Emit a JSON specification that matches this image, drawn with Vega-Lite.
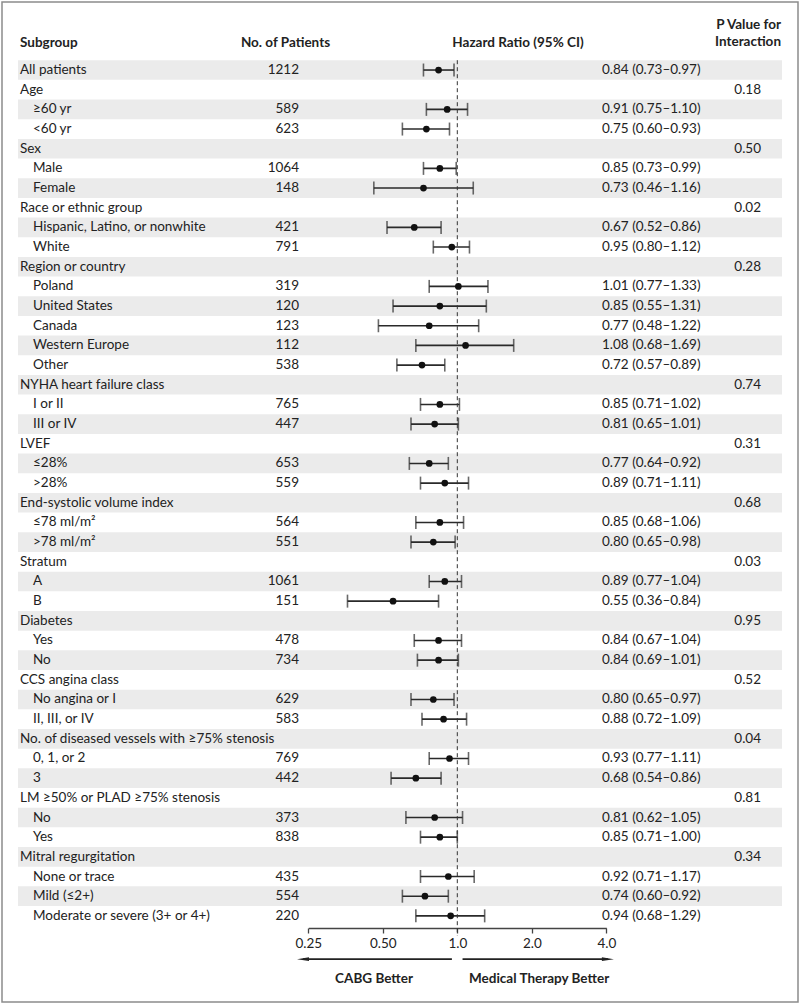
{
  "$schema": "https://vega.github.io/schema/vega-lite/v6.json",
  "width": 796,
  "height": 1000,
  "padding": {"left": 2, "top": 2, "right": 2, "bottom": 2},
  "background": "white",
  "config": {
    "view": {"stroke": "#8c8c8c", "strokeWidth": 1.5},
    "text": {"font": "Lato", "fontSize": 13.5, "color": "#222", "baseline": "middle"}
  },
  "datasets": {
    "rows": [
      {"id": "All patients", "label": "All patients", "level": "g", "n": 1212, "hr": 0.84, "lo": 0.73, "hi": 0.97, "ci": "0.84 (0.73–0.97)"},
      {"id": "Age", "label": "Age", "level": "g", "p": "0.18"},
      {"id": "≥60 yr", "label": "≥60 yr", "level": "s", "n": 589, "hr": 0.91, "lo": 0.75, "hi": 1.10, "ci": "0.91 (0.75–1.10)"},
      {"id": "<60 yr", "label": "<60 yr", "level": "s", "n": 623, "hr": 0.75, "lo": 0.60, "hi": 0.93, "ci": "0.75 (0.60–0.93)"},
      {"id": "Sex", "label": "Sex", "level": "g", "p": "0.50"},
      {"id": "Male", "label": "Male", "level": "s", "n": 1064, "hr": 0.85, "lo": 0.73, "hi": 0.99, "ci": "0.85 (0.73–0.99)"},
      {"id": "Female", "label": "Female", "level": "s", "n": 148, "hr": 0.73, "lo": 0.46, "hi": 1.16, "ci": "0.73 (0.46–1.16)"},
      {"id": "Race or ethnic group", "label": "Race or ethnic group", "level": "g", "p": "0.02"},
      {"id": "Hispanic, Latino, or nonwhite", "label": "Hispanic, Latino, or nonwhite", "level": "s", "n": 421, "hr": 0.67, "lo": 0.52, "hi": 0.86, "ci": "0.67 (0.52–0.86)"},
      {"id": "White", "label": "White", "level": "s", "n": 791, "hr": 0.95, "lo": 0.80, "hi": 1.12, "ci": "0.95 (0.80–1.12)"},
      {"id": "Region or country", "label": "Region or country", "level": "g", "p": "0.28"},
      {"id": "Poland", "label": "Poland", "level": "s", "n": 319, "hr": 1.01, "lo": 0.77, "hi": 1.33, "ci": "1.01 (0.77–1.33)"},
      {"id": "United States", "label": "United States", "level": "s", "n": 120, "hr": 0.85, "lo": 0.55, "hi": 1.31, "ci": "0.85 (0.55–1.31)"},
      {"id": "Canada", "label": "Canada", "level": "s", "n": 123, "hr": 0.77, "lo": 0.48, "hi": 1.22, "ci": "0.77 (0.48–1.22)"},
      {"id": "Western Europe", "label": "Western Europe", "level": "s", "n": 112, "hr": 1.08, "lo": 0.68, "hi": 1.69, "ci": "1.08 (0.68–1.69)"},
      {"id": "Other", "label": "Other", "level": "s", "n": 538, "hr": 0.72, "lo": 0.57, "hi": 0.89, "ci": "0.72 (0.57–0.89)"},
      {"id": "NYHA heart failure class", "label": "NYHA heart failure class", "level": "g", "p": "0.74"},
      {"id": "I or II", "label": "I or II", "level": "s", "n": 765, "hr": 0.85, "lo": 0.71, "hi": 1.02, "ci": "0.85 (0.71–1.02)"},
      {"id": "III or IV", "label": "III or IV", "level": "s", "n": 447, "hr": 0.81, "lo": 0.65, "hi": 1.01, "ci": "0.81 (0.65–1.01)"},
      {"id": "LVEF", "label": "LVEF", "level": "g", "p": "0.31"},
      {"id": "≤28%", "label": "≤28%", "level": "s", "n": 653, "hr": 0.77, "lo": 0.64, "hi": 0.92, "ci": "0.77 (0.64–0.92)"},
      {"id": ">28%", "label": ">28%", "level": "s", "n": 559, "hr": 0.89, "lo": 0.71, "hi": 1.11, "ci": "0.89 (0.71–1.11)"},
      {"id": "End-systolic volume index", "label": "End-systolic volume index", "level": "g", "p": "0.68"},
      {"id": "≤78 ml/m²", "label": "≤78 ml/m²", "level": "s", "n": 564, "hr": 0.85, "lo": 0.68, "hi": 1.06, "ci": "0.85 (0.68–1.06)"},
      {"id": ">78 ml/m²", "label": ">78 ml/m²", "level": "s", "n": 551, "hr": 0.80, "lo": 0.65, "hi": 0.98, "ci": "0.80 (0.65–0.98)"},
      {"id": "Stratum", "label": "Stratum", "level": "g", "p": "0.03"},
      {"id": "A", "label": "A", "level": "s", "n": 1061, "hr": 0.89, "lo": 0.77, "hi": 1.04, "ci": "0.89 (0.77–1.04)"},
      {"id": "B", "label": "B", "level": "s", "n": 151, "hr": 0.55, "lo": 0.36, "hi": 0.84, "ci": "0.55 (0.36–0.84)"},
      {"id": "Diabetes", "label": "Diabetes", "level": "g", "p": "0.95"},
      {"id": "Diabetes: Yes", "label": "Yes", "level": "s", "n": 478, "hr": 0.84, "lo": 0.67, "hi": 1.04, "ci": "0.84 (0.67–1.04)"},
      {"id": "Diabetes: No", "label": "No", "level": "s", "n": 734, "hr": 0.84, "lo": 0.69, "hi": 1.01, "ci": "0.84 (0.69–1.01)"},
      {"id": "CCS angina class", "label": "CCS angina class", "level": "g", "p": "0.52"},
      {"id": "No angina or I", "label": "No angina or I", "level": "s", "n": 629, "hr": 0.80, "lo": 0.65, "hi": 0.97, "ci": "0.80 (0.65–0.97)"},
      {"id": "II, III, or IV", "label": "II, III, or IV", "level": "s", "n": 583, "hr": 0.88, "lo": 0.72, "hi": 1.09, "ci": "0.88 (0.72–1.09)"},
      {"id": "No. of diseased vessels with ≥75% stenosis", "label": "No. of diseased vessels with ≥75% stenosis", "level": "g", "p": "0.04"},
      {"id": "0, 1, or 2", "label": "0, 1, or 2", "level": "s", "n": 769, "hr": 0.93, "lo": 0.77, "hi": 1.11, "ci": "0.93 (0.77–1.11)"},
      {"id": "3", "label": "3", "level": "s", "n": 442, "hr": 0.68, "lo": 0.54, "hi": 0.86, "ci": "0.68 (0.54–0.86)"},
      {"id": "LM ≥50% or PLAD ≥75% stenosis", "label": "LM ≥50% or PLAD ≥75% stenosis", "level": "g", "p": "0.81"},
      {"id": "LM: No", "label": "No", "level": "s", "n": 373, "hr": 0.81, "lo": 0.62, "hi": 1.05, "ci": "0.81 (0.62–1.05)"},
      {"id": "LM: Yes", "label": "Yes", "level": "s", "n": 838, "hr": 0.85, "lo": 0.71, "hi": 1.00, "ci": "0.85 (0.71–1.00)"},
      {"id": "Mitral regurgitation", "label": "Mitral regurgitation", "level": "g", "p": "0.34"},
      {"id": "None or trace", "label": "None or trace", "level": "s", "n": 435, "hr": 0.92, "lo": 0.71, "hi": 1.17, "ci": "0.92 (0.71–1.17)"},
      {"id": "Mild (≤2+)", "label": "Mild (≤2+)", "level": "s", "n": 554, "hr": 0.74, "lo": 0.60, "hi": 0.92, "ci": "0.74 (0.60–0.92)"},
      {"id": "Moderate or severe (3+ or 4+)", "label": "Moderate or severe (3+ or 4+)", "level": "s", "n": 220, "hr": 0.94, "lo": 0.68, "hi": 1.29, "ci": "0.94 (0.68–1.29)"}
    ],
    "arrows": [
      {"from": 0.951, "to": 0.238, "head": "M-1,0L1,-0.3L1,0.3Z"},
      {"from": 1.05, "to": 4.06, "head": "M1,0L-1,-0.3L-1,0.3Z"}
    ],
    "sides": [
      {"x": 0.461, "text": "CABG Better"},
      {"x": 2.14, "text": "Medical Therapy Better"}
    ]
  },
  "layer": [
    {
      "data": {"name": "rows"},
      "transform": [
        {"window": [{"op": "row_number", "as": "rn"}]},
        {"filter": "datum.rn % 2 == 1"}
      ],
      "mark": {"type": "rect", "color": "#ebebeb"},
      "encoding": {
        "x": {"value": 16},
        "x2": {"value": 780},
        "y": {
          "field": "id", "type": "nominal", "axis": null,
          "scale": {
            "type": "band", "paddingInner": 0, "paddingOuter": 0, "range": [58.2, 982.7],
            "domain": ["All patients", "Age", "≥60 yr", "<60 yr", "Sex", "Male", "Female", "Race or ethnic group", "Hispanic, Latino, or nonwhite", "White", "Region or country", "Poland", "United States", "Canada", "Western Europe", "Other", "NYHA heart failure class", "I or II", "III or IV", "LVEF", "≤28%", ">28%", "End-systolic volume index", "≤78 ml/m²", ">78 ml/m²", "Stratum", "A", "B", "Diabetes", "Diabetes: Yes", "Diabetes: No", "CCS angina class", "No angina or I", "II, III, or IV", "No. of diseased vessels with ≥75% stenosis", "0, 1, or 2", "3", "LM ≥50% or PLAD ≥75% stenosis", "LM: No", "LM: Yes", "Mitral regurgitation", "None or trace", "Mild (≤2+)", "Moderate or severe (3+ or 4+)", "axis", "arrows", "labels"]
          }
        }
      }
    },
    {
      "data": {"name": "rows"},
      "transform": [{"filter": "isValid(datum.hr)"}],
      "mark": {"type": "rule", "color": "#2a2a2a", "strokeWidth": 1.6},
      "encoding": {
        "x": {
          "field": "lo", "type": "quantitative",
          "scale": {"type": "log", "domain": [0.25, 4], "range": [306.3, 604.3], "nice": false},
          "axis": {
            "values": [0.25, 0.5, 1, 2, 4],
            "labelExpr": "datum.value < 1 ? format(datum.value, '.2f') : format(datum.value, '.1f')",
            "offset": -74, "grid": false, "title": null,
            "domainColor": "#444", "tickColor": "#444", "domainWidth": 1.3, "tickWidth": 1.3, "tickSize": 5,
            "labelFont": "Lato", "labelFontSize": 13.5, "labelColor": "#222", "labelPadding": 3,
            "labelFlush": false, "labelOverlap": false
          }
        },
        "x2": {"field": "hi"},
        "y": {"field": "id", "type": "nominal"}
      }
    },
    {
      "data": {"name": "rows"},
      "transform": [{"filter": "isValid(datum.hr)"}],
      "mark": {"type": "tick", "color": "#2a2a2a", "thickness": 1.6, "size": 13, "orient": "vertical"},
      "encoding": {
        "x": {"field": "lo", "type": "quantitative"},
        "y": {"field": "id", "type": "nominal"}
      }
    },
    {
      "data": {"name": "rows"},
      "transform": [{"filter": "isValid(datum.hr)"}],
      "mark": {"type": "tick", "color": "#2a2a2a", "thickness": 1.6, "size": 13, "orient": "vertical"},
      "encoding": {
        "x": {"field": "hi", "type": "quantitative"},
        "y": {"field": "id", "type": "nominal"}
      }
    },
    {
      "data": {"values": [{}]},
      "mark": {"type": "rule", "color": "#333", "strokeWidth": 1, "strokeDash": [4, 3]},
      "encoding": {
        "x": {"datum": 1, "type": "quantitative"},
        "y": {"datum": "All patients", "type": "nominal", "bandPosition": 0},
        "y2": {"datum": "axis"}
      }
    },
    {
      "data": {"name": "rows"},
      "transform": [{"filter": "isValid(datum.hr)"}],
      "mark": {"type": "point", "filled": true, "size": 45, "color": "#111", "opacity": 1},
      "encoding": {
        "x": {"field": "hr", "type": "quantitative"},
        "y": {"field": "id", "type": "nominal"}
      }
    },
    {
      "data": {"name": "rows"},
      "transform": [{"filter": "datum.level == 'g'"}],
      "mark": {"type": "text", "align": "left"},
      "encoding": {
        "x": {"value": 18},
        "y": {"field": "id", "type": "nominal"},
        "text": {"field": "label"}
      }
    },
    {
      "data": {"name": "rows"},
      "transform": [{"filter": "datum.level == 's'"}],
      "mark": {"type": "text", "align": "left"},
      "encoding": {
        "x": {"value": 31},
        "y": {"field": "id", "type": "nominal"},
        "text": {"field": "label"}
      }
    },
    {
      "data": {"name": "rows"},
      "transform": [{"filter": "isValid(datum.n)"}],
      "mark": {"type": "text", "align": "right"},
      "encoding": {
        "x": {"value": 297},
        "y": {"field": "id", "type": "nominal"},
        "text": {"field": "n", "type": "quantitative", "format": "d"}
      }
    },
    {
      "data": {"name": "rows"},
      "transform": [{"filter": "isValid(datum.ci)"}],
      "mark": {"type": "text", "align": "left"},
      "encoding": {
        "x": {"value": 600},
        "y": {"field": "id", "type": "nominal"},
        "text": {"field": "ci"}
      }
    },
    {
      "data": {"name": "rows"},
      "transform": [{"filter": "isValid(datum.p)"}],
      "mark": {"type": "text", "align": "right"},
      "encoding": {
        "x": {"value": 759},
        "y": {"field": "id", "type": "nominal"},
        "text": {"field": "p"}
      }
    },
    {
      "data": {"values": [{"t": "Subgroup"}]},
      "mark": {"type": "text", "align": "left", "fontWeight": "bold", "dy": -27},
      "encoding": {
        "x": {"value": 18},
        "y": {"datum": "All patients", "type": "nominal"},
        "text": {"field": "t"}
      }
    },
    {
      "data": {"values": [{"t": "No. of Patients"}]},
      "mark": {"type": "text", "align": "center", "fontWeight": "bold", "dy": -27},
      "encoding": {
        "x": {"value": 283.5},
        "y": {"datum": "All patients", "type": "nominal"},
        "text": {"field": "t"}
      }
    },
    {
      "data": {"values": [{"t": "Hazard Ratio (95% CI)"}]},
      "mark": {"type": "text", "align": "center", "fontWeight": "bold", "dy": -27},
      "encoding": {
        "x": {"value": 516},
        "y": {"datum": "All patients", "type": "nominal"},
        "text": {"field": "t"}
      }
    },
    {
      "data": {"values": [{"t": "P Value for"}]},
      "mark": {"type": "text", "align": "right", "fontWeight": "bold", "dy": -45},
      "encoding": {
        "x": {"value": 779},
        "y": {"datum": "All patients", "type": "nominal"},
        "text": {"field": "t"}
      }
    },
    {
      "data": {"values": [{"t": "Interaction"}]},
      "mark": {"type": "text", "align": "right", "fontWeight": "bold", "dy": -28},
      "encoding": {
        "x": {"value": 779},
        "y": {"datum": "All patients", "type": "nominal"},
        "text": {"field": "t"}
      }
    },
    {
      "data": {"name": "arrows"},
      "mark": {"type": "rule", "color": "#222", "strokeWidth": 1.6},
      "encoding": {
        "x": {"field": "from", "type": "quantitative"},
        "x2": {"field": "to"},
        "y": {"datum": "arrows", "type": "nominal", "bandPosition": 0.7}
      }
    },
    {
      "data": {"name": "arrows"},
      "mark": {"type": "point", "filled": true, "color": "#222", "size": 144, "opacity": 1},
      "encoding": {
        "x": {"field": "to", "type": "quantitative"},
        "y": {"datum": "arrows", "type": "nominal", "bandPosition": 0.7},
        "shape": {"field": "head", "type": "nominal", "scale": null}
      }
    },
    {
      "data": {"name": "sides"},
      "mark": {"type": "text", "align": "center", "fontWeight": "bold", "dy": 4},
      "encoding": {
        "x": {"field": "x", "type": "quantitative"},
        "y": {"datum": "labels", "type": "nominal"},
        "text": {"field": "text"}
      }
    }
  ]
}
